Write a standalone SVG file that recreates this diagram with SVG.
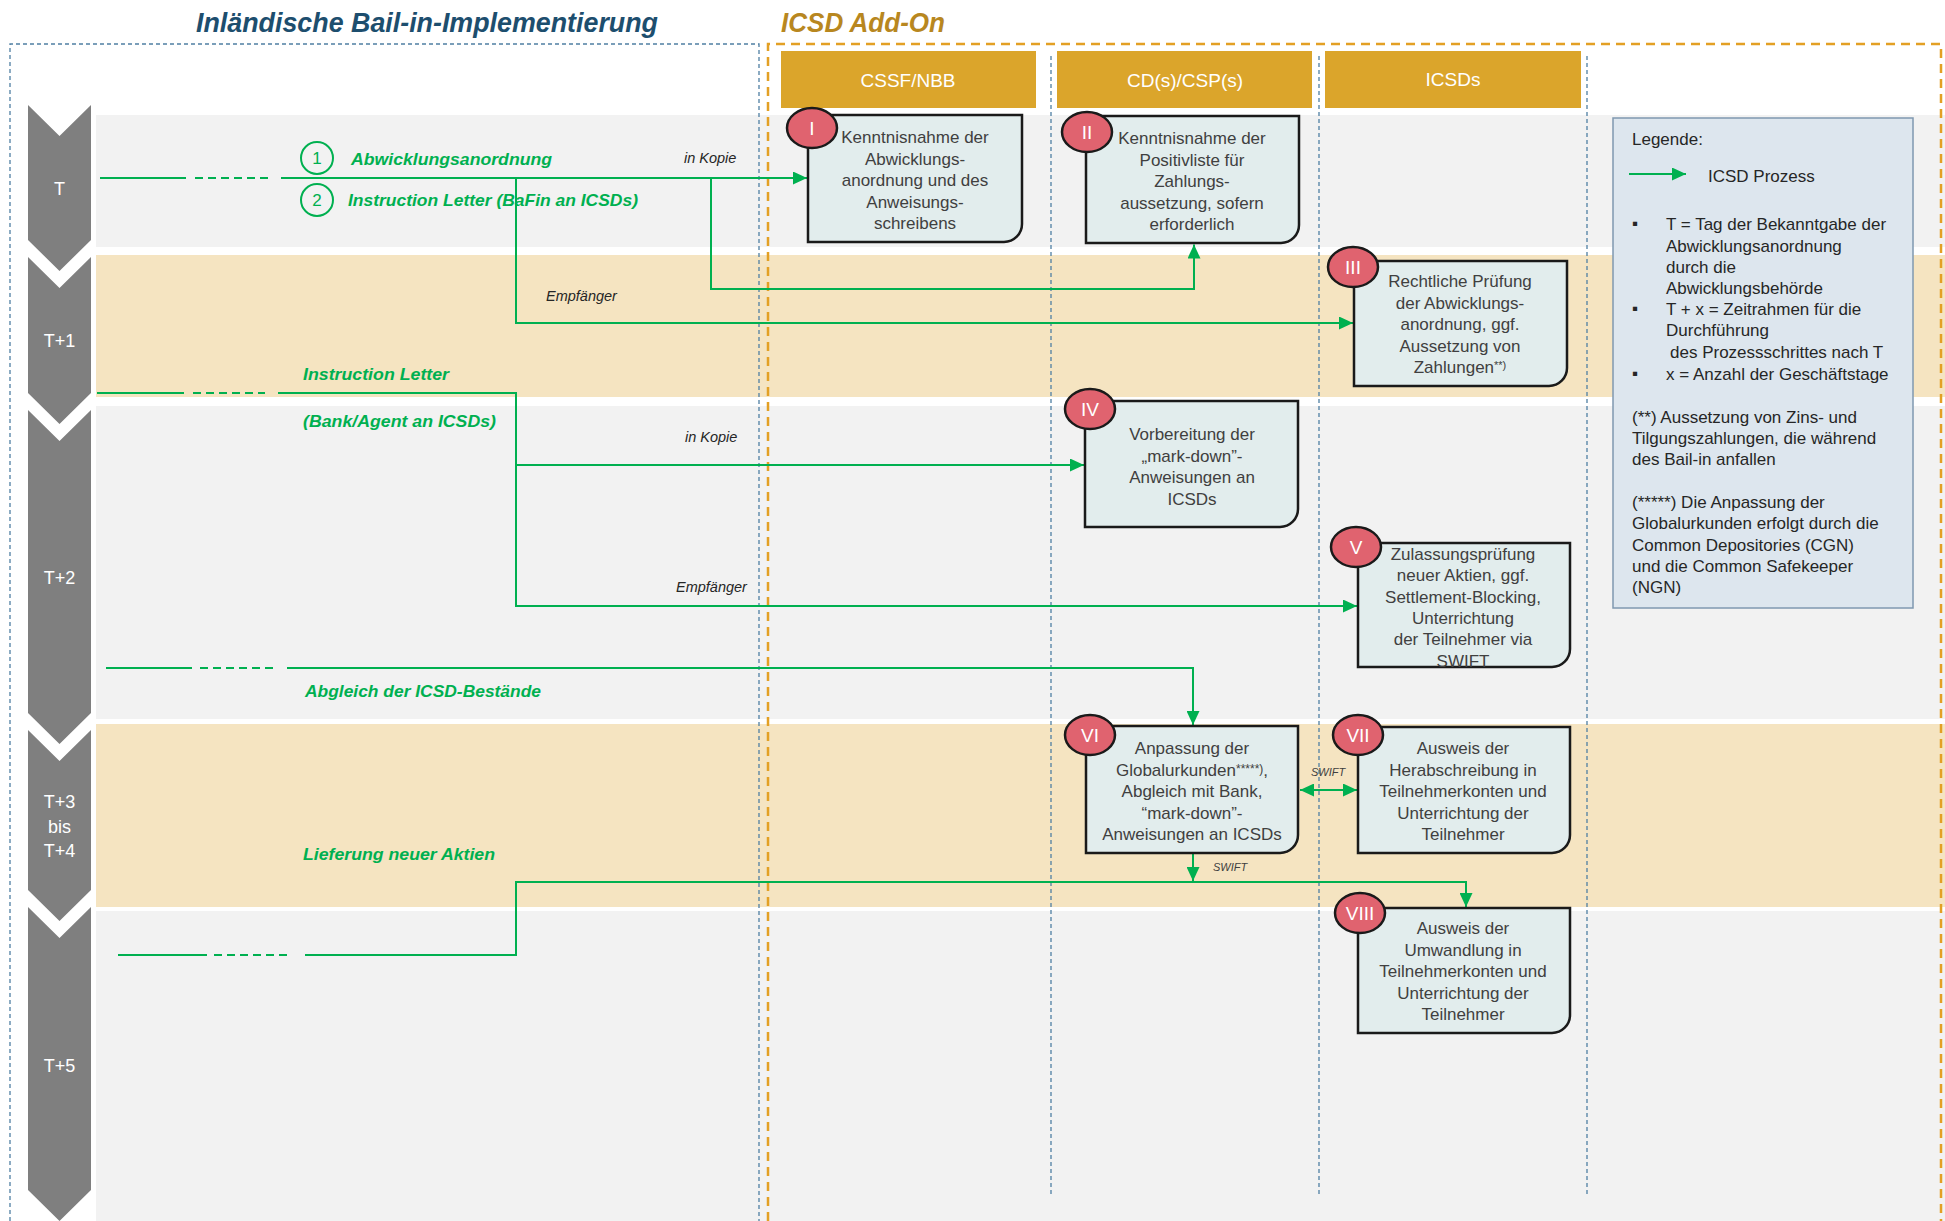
<svg xmlns="http://www.w3.org/2000/svg" width="1945" height="1221" viewBox="0 0 1945 1221">
<style>
.bgG{fill:#f2f2f2}.bgB{fill:#f5e4c1}
.chev{fill:#7f7f7f}
.chevt{font-family:"Liberation Sans",Arial,sans-serif;font-size:18px;fill:#fff;text-anchor:middle}
.hdr{fill:#dba52b}
.hdrt{font-family:"Liberation Sans",Arial,sans-serif;font-size:19px;fill:#fff;text-anchor:middle}
.lane{stroke:#4f7fa3;stroke-width:1.3;stroke-dasharray:4 3;fill:none}
.obox{stroke:#e3a024;stroke-width:2.5;stroke-dasharray:9 6;fill:none}
.node{fill:#e2eded;stroke:#1a1a1a;stroke-width:2.5}
.badge{fill:#e0636f;stroke:#1a1a1a;stroke-width:2.5}
.badget{font-family:"Liberation Sans",Arial,sans-serif;font-size:19px;fill:#fff;text-anchor:middle}
.nt{font-family:"Liberation Sans",Arial,sans-serif;font-size:17px;fill:#404040;text-anchor:middle}
.con{stroke:#00b050;stroke-width:2;fill:none}
.dash{stroke-dasharray:8 5}
.gl{font-family:"Liberation Sans",Arial,sans-serif;font-size:17px;font-weight:bold;font-style:italic;fill:#00b050}
.sm{font-family:"Liberation Sans",Arial,sans-serif;font-size:14.5px;font-style:italic;fill:#262626}
.sw{font-family:"Liberation Sans",Arial,sans-serif;font-size:11px;font-style:italic;fill:#404040}
.lg{font-family:"Liberation Sans",Arial,sans-serif;font-size:17px;fill:#262626}
.gc{fill:none;stroke:#00b050;stroke-width:2}
.gn{font-family:"Liberation Sans",Arial,sans-serif;font-size:17px;fill:#00b050;text-anchor:middle}
</style>
<defs>
<marker id="ah" viewBox="0 0 14 13" refX="14" refY="6.5" markerWidth="14" markerHeight="13" markerUnits="userSpaceOnUse" orient="auto-start-reverse"><path d="M0,0 L14,6.5 L0,13 z" fill="#00b050"/></marker>
</defs>
<rect width="1945" height="1221" fill="#fff"/>
<g id="rows">
<rect class="bgG" x="96" y="115" width="1849" height="132"/>
<rect class="bgB" x="96" y="255" width="1849" height="142"/>
<rect class="bgG" x="96" y="406" width="1849" height="313"/>
<rect class="bgB" x="96" y="724" width="1849" height="183"/>
<rect class="bgG" x="96" y="911" width="1849" height="310"/>
</g>
<g id="timeline">
<polygon class="chev" points="28,105 59.5,136 91,105 91,240 59.5,271 28,240"/>
<polygon class="chev" points="28,257 59.5,288 91,257 91,393 59.5,424 28,393"/>
<polygon class="chev" points="28,410 59.5,441 91,410 91,713 59.5,744 28,713"/>
<polygon class="chev" points="28,730 59.5,761 91,730 91,890 59.5,921 28,890"/>
<polygon class="chev" points="28,907 59.5,938 91,907 91,1190 59.5,1221 28,1190"/>
<text class="chevt" x="59.5" y="195">T</text>
<text class="chevt" x="59.5" y="347">T+1</text>
<text class="chevt" x="59.5" y="584">T+2</text>
<text class="chevt" x="59.5" y="808">T+3</text>
<text class="chevt" x="59.5" y="833">bis</text>
<text class="chevt" x="59.5" y="857">T+4</text>
<text class="chevt" x="59.5" y="1072">T+5</text>
</g>
<g id="frames">
<text x="196" y="32" font-family="'Liberation Sans',Arial,sans-serif" font-size="27" font-weight="bold" font-style="italic" fill="#1d4e6e" textLength="462" lengthAdjust="spacingAndGlyphs">Inländische Bail-in-Implementierung</text>
<text x="781" y="32" font-family="'Liberation Sans',Arial,sans-serif" font-size="27" font-weight="bold" font-style="italic" fill="#b8871f" textLength="164" lengthAdjust="spacingAndGlyphs">ICSD Add-On</text>
<path class="lane" d="M10,1221 V44 H759 V1221"/>
<path class="obox" d="M768,1221 V44 H1941 V1221"/>
<line class="lane" x1="1051" y1="56" x2="1051" y2="1195"/>
<line class="lane" x1="1319" y1="56" x2="1319" y2="1195"/>
<line class="lane" x1="1587" y1="56" x2="1587" y2="1195"/>
</g>
<g id="lanes">
<rect class="hdr" x="781" y="51" width="255" height="57"/>
<rect class="hdr" x="1057" y="51" width="255" height="57"/>
<rect class="hdr" x="1325" y="51" width="256" height="57"/>
<text class="hdrt" x="908" y="87">CSSF/NBB</text>
<text class="hdrt" x="1185" y="87">CD(s)/CSP(s)</text>
<text class="hdrt" x="1453" y="86">ICSDs</text>
</g>
<g id="connectors">
<path class="con" d="M100,178 H186"/>
<path class="con dash" d="M195,178 H268"/>
<path class="con" d="M281,178 H807" marker-end="url(#ah)"/>
<path class="con" d="M516,178 V323 H1353" marker-end="url(#ah)"/>
<path class="con" d="M711,178 V289 H1194 V244.5" marker-end="url(#ah)"/>
<path class="con" d="M97,393 H184"/>
<path class="con dash" d="M193,393 H265"/>
<path class="con" d="M278,393 H516 V606 H1357" marker-end="url(#ah)"/>
<path class="con" d="M516,465 H1084" marker-end="url(#ah)"/>
<path class="con" d="M106,668 H192"/>
<path class="con dash" d="M200,668 H273"/>
<path class="con" d="M287,668 H1193 V725" marker-end="url(#ah)"/>
<path class="con" d="M118,955 H207"/>
<path class="con dash" d="M214,955 H287"/>
<path class="con" d="M305,955 H516 V882 H1466 V907" marker-end="url(#ah)"/>
<path class="con" d="M1193,854 V881" marker-end="url(#ah)"/>
<path class="con" d="M1300,790 H1357" marker-start="url(#ah)" marker-end="url(#ah)"/>
<text class="sm" x="684" y="163">in Kopie</text>
<text class="sm" x="546" y="301">Empfänger</text>
<text class="sm" x="685" y="442">in Kopie</text>
<text class="sm" x="676" y="592">Empfänger</text>
<text class="sw" x="1311" y="776">SWIFT</text>
<text class="sw" x="1213" y="871">SWIFT</text>
<circle class="gc" cx="317" cy="158" r="16"/>
<text class="gn" x="317" y="164">1</text>
<circle class="gc" cx="317" cy="200" r="16"/>
<text class="gn" x="317" y="206">2</text>
<text class="gl" x="351" y="165" textLength="201" lengthAdjust="spacingAndGlyphs">Abwicklungsanordnung</text>
<text class="gl" x="348" y="206" textLength="290" lengthAdjust="spacingAndGlyphs">Instruction Letter (BaFin an ICSDs)</text>
<text class="gl" x="303" y="380" textLength="146" lengthAdjust="spacingAndGlyphs">Instruction Letter</text>
<text class="gl" x="303" y="427" textLength="193" lengthAdjust="spacingAndGlyphs">(Bank/Agent an ICSDs)</text>
<text class="gl" x="305" y="697" textLength="236" lengthAdjust="spacingAndGlyphs">Abgleich der ICSD-Bestände</text>
<text class="gl" x="303" y="860" textLength="192" lengthAdjust="spacingAndGlyphs">Lieferung neuer Aktien</text>
</g>
<g id="node-I">
<path class="node" d="M808,115 H1022 V224 A18 18 0 0 1 1004,242 H808 Z"/>
<ellipse class="badge" cx="812" cy="128" rx="25" ry="20"/>
<text class="badget" x="812" y="135">I</text>
<text class="nt" x="915" y="143">Kenntnisnahme der</text>
<text class="nt" x="915" y="164.5">Abwicklungs-</text>
<text class="nt" x="915" y="186">anordnung und des</text>
<text class="nt" x="915" y="207.5">Anweisungs-</text>
<text class="nt" x="915" y="229">schreibens</text>
</g>
<g id="node-II">
<path class="node" d="M1086,116 H1299 V225 A18 18 0 0 1 1281,243 H1086 Z"/>
<ellipse class="badge" cx="1087" cy="132" rx="25" ry="20"/>
<text class="badget" x="1087" y="139">II</text>
<text class="nt" x="1192" y="144">Kenntnisnahme der</text>
<text class="nt" x="1192" y="165.5">Positivliste für</text>
<text class="nt" x="1192" y="187">Zahlungs-</text>
<text class="nt" x="1192" y="208.5">aussetzung, sofern</text>
<text class="nt" x="1192" y="230">erforderlich</text>
</g>
<g id="node-III">
<path class="node" d="M1354,261 H1567 V368 A18 18 0 0 1 1549,386 H1354 Z"/>
<ellipse class="badge" cx="1353" cy="267" rx="25" ry="20"/>
<text class="badget" x="1353" y="274">III</text>
<text class="nt" x="1460" y="287">Rechtliche Prüfung</text>
<text class="nt" x="1460" y="308.5">der Abwicklungs-</text>
<text class="nt" x="1460" y="330">anordnung, ggf.</text>
<text class="nt" x="1460" y="351.5">Aussetzung von</text>
<text class="nt" x="1460" y="373">Zahlungen<tspan font-size="11" dy="-4">**)</tspan></text>
</g>
<g id="node-IV">
<path class="node" d="M1085,401 H1298 V509 A18 18 0 0 1 1280,527 H1085 Z"/>
<ellipse class="badge" cx="1090" cy="409" rx="25" ry="20"/>
<text class="badget" x="1090" y="416">IV</text>
<text class="nt" x="1192" y="440">Vorbereitung der</text>
<text class="nt" x="1192" y="461.5">„mark-down”-</text>
<text class="nt" x="1192" y="483">Anweisungen an</text>
<text class="nt" x="1192" y="504.5">ICSDs</text>
</g>
<g id="node-V">
<path class="node" d="M1358,543 H1570 V649 A18 18 0 0 1 1552,667 H1358 Z"/>
<ellipse class="badge" cx="1356" cy="547" rx="25" ry="20"/>
<text class="badget" x="1356" y="554">V</text>
<text class="nt" x="1463" y="560">Zulassungsprüfung</text>
<text class="nt" x="1463" y="581.3">neuer Aktien, ggf.</text>
<text class="nt" x="1463" y="602.6">Settlement-Blocking,</text>
<text class="nt" x="1463" y="623.9">Unterrichtung</text>
<text class="nt" x="1463" y="645.2">der Teilnehmer via</text>
<text class="nt" x="1463" y="666.5">SWIFT</text>
</g>
<g id="node-VI">
<path class="node" d="M1086,726 H1298 V835 A18 18 0 0 1 1280,853 H1086 Z"/>
<ellipse class="badge" cx="1090" cy="735" rx="25" ry="20"/>
<text class="badget" x="1090" y="742">VI</text>
<text class="nt" x="1192" y="754">Anpassung der</text>
<text class="nt" x="1192" y="775.5">Globalurkunden<tspan font-size="12" dy="-3">*****)</tspan><tspan dy="3">,</tspan></text>
<text class="nt" x="1192" y="797">Abgleich mit Bank,</text>
<text class="nt" x="1192" y="818.5">“mark-down”-</text>
<text class="nt" x="1192" y="840">Anweisungen an ICSDs</text>
</g>
<g id="node-VII">
<path class="node" d="M1358,727 H1570 V835 A18 18 0 0 1 1552,853 H1358 Z"/>
<ellipse class="badge" cx="1358" cy="735" rx="25" ry="20"/>
<text class="badget" x="1358" y="742">VII</text>
<text class="nt" x="1463" y="754">Ausweis der</text>
<text class="nt" x="1463" y="775.5">Herabschreibung in</text>
<text class="nt" x="1463" y="797">Teilnehmerkonten und</text>
<text class="nt" x="1463" y="818.5">Unterrichtung der</text>
<text class="nt" x="1463" y="840">Teilnehmer</text>
</g>
<g id="node-VIII">
<path class="node" d="M1358,908 H1570 V1015 A18 18 0 0 1 1552,1033 H1358 Z"/>
<ellipse class="badge" cx="1360" cy="913" rx="25" ry="20"/>
<text class="badget" x="1360" y="920">VIII</text>
<text class="nt" x="1463" y="934">Ausweis der</text>
<text class="nt" x="1463" y="955.5">Umwandlung in</text>
<text class="nt" x="1463" y="977">Teilnehmerkonten und</text>
<text class="nt" x="1463" y="998.5">Unterrichtung der</text>
<text class="nt" x="1463" y="1020">Teilnehmer</text>
</g>
<g id="legend">
<rect x="1613" y="118" width="300" height="490" fill="#dde6ee" stroke="#7f98b0" stroke-width="1.5"/>
<text class="lg" x="1632" y="145">Legende:</text>
<line class="con" x1="1629" y1="174" x2="1686" y2="174" marker-end="url(#ah)"/>
<text class="lg" x="1708" y="182" font-size="20">ICSD Prozess</text>
<text class="lg" x="1632" y="229" font-size="12">▪</text>
<text class="lg" x="1666" y="230">T = Tag der Bekanntgabe der</text>
<text class="lg" x="1666" y="252">Abwicklungsanordnung</text>
<text class="lg" x="1666" y="273">durch die</text>
<text class="lg" x="1666" y="294">Abwicklungsbehörde</text>
<text class="lg" x="1632" y="314" font-size="12">▪</text>
<text class="lg" x="1666" y="315">T + x = Zeitrahmen für die</text>
<text class="lg" x="1666" y="336">Durchführung</text>
<text class="lg" x="1670" y="358">des Prozessschrittes nach T</text>
<text class="lg" x="1632" y="379" font-size="12">▪</text>
<text class="lg" x="1666" y="380">x = Anzahl der Geschäftstage</text>
<text class="lg" x="1632" y="423">(**) Aussetzung von Zins- und</text>
<text class="lg" x="1632" y="444">Tilgungszahlungen, die während</text>
<text class="lg" x="1632" y="465">des Bail-in anfallen</text>
<text class="lg" x="1632" y="508">(*****) Die Anpassung der</text>
<text class="lg" x="1632" y="529">Globalurkunden erfolgt durch die</text>
<text class="lg" x="1632" y="551">Common Depositories (CGN)</text>
<text class="lg" x="1632" y="572">und die Common Safekeeper</text>
<text class="lg" x="1632" y="593">(NGN)</text>
</g>
</svg>
